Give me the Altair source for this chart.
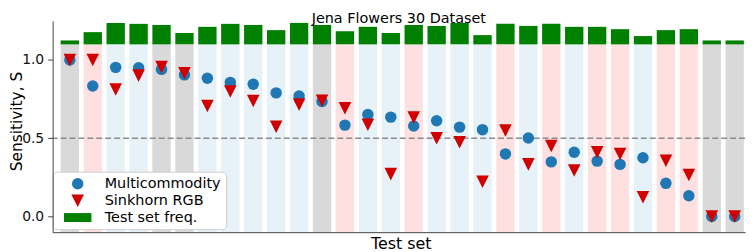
import altair as alt
import pandas as pd

FONT = "DejaVu Sans"

# ---- data ----
test_index = list(range(30))
bg_group = ["g", "r", "b", "b", "g", "g", "b", "b", "b", "b",
            "b", "g", "r", "b", "b", "r", "b", "b", "b", "r",
            "b", "r", "b", "r", "r", "b", "r", "r", "g", "g"]
# test-set frequency bar heights (in S units, stacked above 1.1)
freq = [0.025, 0.078, 0.137, 0.131, 0.124, 0.072, 0.112, 0.131, 0.124, 0.091,
        0.137, 0.124, 0.084, 0.112, 0.072, 0.124, 0.118, 0.137, 0.059, 0.131,
        0.118, 0.131, 0.112, 0.112, 0.097, 0.053, 0.091, 0.097, 0.025, 0.025]
multicommodity = [1.00, 0.834, 0.953, 0.950, 0.940, 0.905, 0.883, 0.857, 0.845, 0.790,
                  0.770, 0.735, 0.584, 0.652, 0.635, 0.578, 0.612, 0.571, 0.555, 0.400,
                  0.502, 0.349, 0.411, 0.354, 0.333, 0.375, 0.212, 0.133, 0.0, 0.0]
sinkhorn = [1.00, 1.00, 0.812, 0.900, 0.955, 0.915, 0.706, 0.799, 0.738, 0.574,
            0.715, 0.740, 0.692, 0.586, 0.271, 0.633, 0.500, 0.475, 0.222, 0.550,
            0.333, 0.451, 0.294, 0.411, 0.399, 0.123, 0.356, 0.265, 0.0, 0.0]
series_names = ["Multicommodity", "Sinkhorn RGB", "Test set freq."]
series_colors = ["#1f77b4", "#d00000", "#008000"]
bg_domain = ["g", "r", "b"]
bg_colors = ["#d9d9d9", "#ffe0e0", "#e6f1f8"]
BG_BOTTOM = -0.1
BG_TOP = 1.1
ref_line = [0.5]

bg = pd.DataFrame({"i": test_index, "group": bg_group, "freq": freq})
pts = pd.DataFrame({
    "i": test_index + test_index,
    "S": multicommodity + sinkhorn,
    "series": [series_names[0]] * 30 + [series_names[1]] * 30,
})

xs = alt.Scale(domain=[-0.75, 29.45], nice=False, zero=False)
ys = alt.Scale(domain=[-0.1, 1.25], nice=False, zero=False)

xaxis = alt.Axis(title="Test set", ticks=False, labels=False, grid=False,
                 domainColor="#444444", domainWidth=1, titleFont=FONT, titleFontSize=16,
                 titleFontWeight="normal", titleColor="black", titleY=16,
                 titleX=351, titleBaseline="alphabetic", zindex=1)
yaxis = alt.Axis(title="Sensitivity, S", values=[0, 0.5, 1.0], format=".1f", grid=False,
                 tickSize=5, tickColor="#444444", domainColor="#444444", domainWidth=1,
                 labelFont=FONT, labelFontSize=14, labelColor="#111111", labelPadding=4,
                 titleFont=FONT, titleFontSize=15.5, titleFontWeight="normal",
                 titleColor="black", titleX=-28, titleY=101, zindex=1)

bgbars = alt.Chart(bg).transform_calculate(
    xa="datum.i - 0.4", xb="datum.i + 0.4", ylo=str(BG_BOTTOM), yhi=str(BG_TOP)
).mark_rect().encode(
    x=alt.X("xa:Q", scale=xs, axis=xaxis),
    x2="xb:Q",
    y=alt.Y("ylo:Q", scale=ys, axis=yaxis),
    y2="yhi:Q",
    fill=alt.Fill("group:N", scale=alt.Scale(domain=bg_domain, range=bg_colors), legend=None),
)

green = alt.Chart(bg).transform_calculate(
    xa="datum.i - 0.4", xb="datum.i + 0.4", ylo=str(BG_TOP), yhi=f"{BG_TOP} + datum.freq"
).mark_rect(fill="#008000").encode(
    x=alt.X("xa:Q", scale=xs, axis=xaxis),
    x2="xb:Q",
    y=alt.Y("ylo:Q", scale=ys, axis=yaxis),
    y2="yhi:Q",
)

rule = alt.Chart(pd.DataFrame({"y": ref_line})).mark_rule(
    strokeDash=[6, 3], color="#8c8c8c", strokeWidth=1.5
).encode(y=alt.Y("y:Q", scale=ys, axis=yaxis))

legend = alt.Legend(orient="none", legendX=0, legendY=152, title=None,
                    fillColor="white", strokeColor="#cccccc", cornerRadius=4, padding=5,
                    symbolSize=133, symbolOffset=13, labelOffset=20, labelFont=FONT,
                    labelFontSize=14.5, labelColor="black", rowPadding=2,
                    symbolStrokeWidth=0, symbolOpacity=1)
shapes = ["circle", "M-1.1,-1.1L1.1,-1.1L0,1.1Z",
          "M-2.4,-0.78L2.4,-0.78L2.4,0.78L-2.4,0.78Z"]

points = alt.Chart(pts).mark_point(filled=True, opacity=1, size=133, strokeWidth=0).encode(
    x=alt.X("i:Q", scale=xs, axis=xaxis),
    y=alt.Y("S:Q", scale=ys, axis=yaxis),
    color=alt.Color("series:N", scale=alt.Scale(domain=series_names, range=series_colors), legend=legend),
    shape=alt.Shape("series:N", scale=alt.Scale(domain=series_names, range=shapes), legend=legend),
)

chart = alt.layer(bgbars, green, rule, points).properties(
    width=698, height=213,
    title=alt.Title("Jena Flowers 30 Dataset", font=FONT, fontSize=14.5, fontWeight="normal",
                    color="black", offset=0, dy=16.5, baseline="alphabetic", anchor="middle",
                    frame="group"),
    autosize=alt.AutoSizeParams(type="none"),
    padding={"left": 45, "top": 12, "right": 1, "bottom": 19},
).configure_view(stroke=None)

chart.save("out.html", embed_options={"renderer": "svg", "actions": False})
